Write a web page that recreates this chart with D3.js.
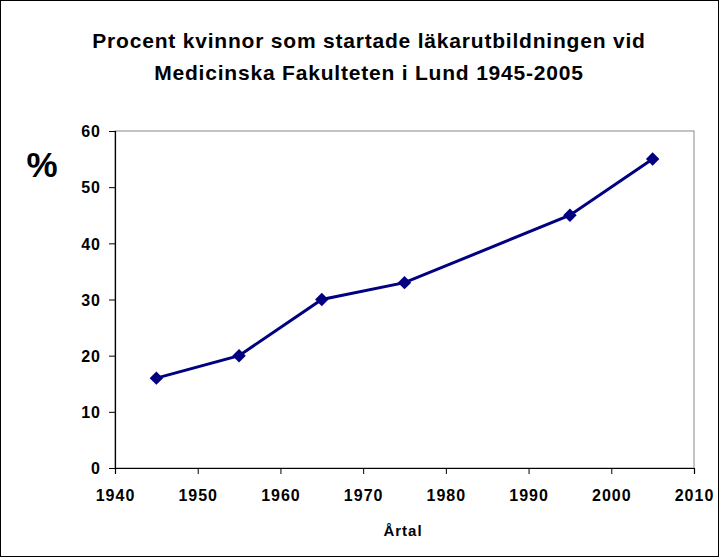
<!DOCTYPE html>
<html>
<head>
<meta charset="utf-8">
<script src="https://cdn.jsdelivr.net/npm/d3@7"></script>
<style>
  body { margin: 0; background: #fff; }
  text { font-family: "Liberation Sans", Arial, sans-serif; font-weight: bold; fill: #000; }
</style>
</head>
<body>
<div id="chart"></div>
<script>
const years = [1945, 1955, 1965, 1975, 1995, 2005];
const percent = [16, 20, 30, 33, 45, 55];
const xTicks = [1940, 1950, 1960, 1970, 1980, 1990, 2000, 2010];
const yTicks = [0, 10, 20, 30, 40, 50, 60];

const W = 720, H = 558;
const plot = { left: 115, top: 131, right: 694, bottom: 468 };

const svg = d3.select("#chart").append("svg")
  .attr("width", W)
  .attr("height", H);

// outer frame
svg.append("rect")
  .attr("x", 0.5).attr("y", 0.5)
  .attr("width", W - 2).attr("height", H - 2)
  .attr("fill", "#fff")
  .attr("stroke", "#000");

const x = d3.scaleLinear().domain([1940, 2010]).range([plot.left, plot.right]);
const y = d3.scaleLinear().domain([0, 60]).range([plot.bottom, plot.top]);

// plot area border (grey)
svg.append("rect")
  .attr("x", plot.left).attr("y", plot.top)
  .attr("width", plot.right - plot.left).attr("height", plot.bottom - plot.top)
  .attr("fill", "none")
  .attr("stroke", "#888");

// axes
const xAxis = svg.append("g")
  .attr("transform", `translate(0,${plot.bottom})`)
  .call(d3.axisBottom(x).tickValues(xTicks).tickFormat(d3.format("d")).tickSize(6).tickPadding(16));

const yAxis = svg.append("g")
  .attr("transform", `translate(${plot.left},0)`)
  .call(d3.axisLeft(y).tickValues(yTicks).tickSize(6).tickPadding(8));

[xAxis, yAxis].forEach(g => {
  g.select(".domain").attr("stroke", "#000").attr("stroke-width", 1.2);
  g.selectAll(".tick line").attr("stroke", "#000");
  g.selectAll(".tick text")
    .style("font-family", "'Liberation Sans', Arial, sans-serif")
    .style("font-weight", "bold")
    .style("font-size", "16px")
    .style("letter-spacing", "1px");
});
yAxis.selectAll(".tick text").attr("dy", "0.36em");

// line
const line = d3.line()
  .x((d, i) => x(years[i]))
  .y(d => y(d));

svg.append("path")
  .datum(percent)
  .attr("fill", "none")
  .attr("stroke", "#000080")
  .attr("stroke-width", 3)
  .attr("d", line);

// diamond markers
svg.append("g")
  .selectAll("path")
  .data(percent)
  .join("path")
  .attr("d", d3.symbol().type(d3.symbolDiamond2 || d3.symbolDiamond).size(115))
  .attr("transform", (d, i) => `translate(${x(years[i])},${y(d)})`)
  .attr("fill", "#000080");

// title
svg.append("text")
  .attr("x", 369).attr("y", 48)
  .attr("text-anchor", "middle")
  .style("font-size", "21px")
  .style("letter-spacing", "0.8px")
  .text("Procent kvinnor som startade läkarutbildningen vid");

svg.append("text")
  .attr("x", 369).attr("y", 80)
  .attr("text-anchor", "middle")
  .style("font-size", "21px")
  .style("letter-spacing", "0.8px")
  .text("Medicinska Fakulteten i Lund 1945-2005");

// y label
svg.append("text")
  .attr("x", 42).attr("y", 177)
  .attr("text-anchor", "middle")
  .style("font-size", "35px")
  .text("%");

// x label
svg.append("text")
  .attr("x", 403).attr("y", 536)
  .attr("text-anchor", "middle")
  .style("font-size", "15px")
  .style("letter-spacing", "1px")
  .text("Årtal");
</script>
</body>
</html>
